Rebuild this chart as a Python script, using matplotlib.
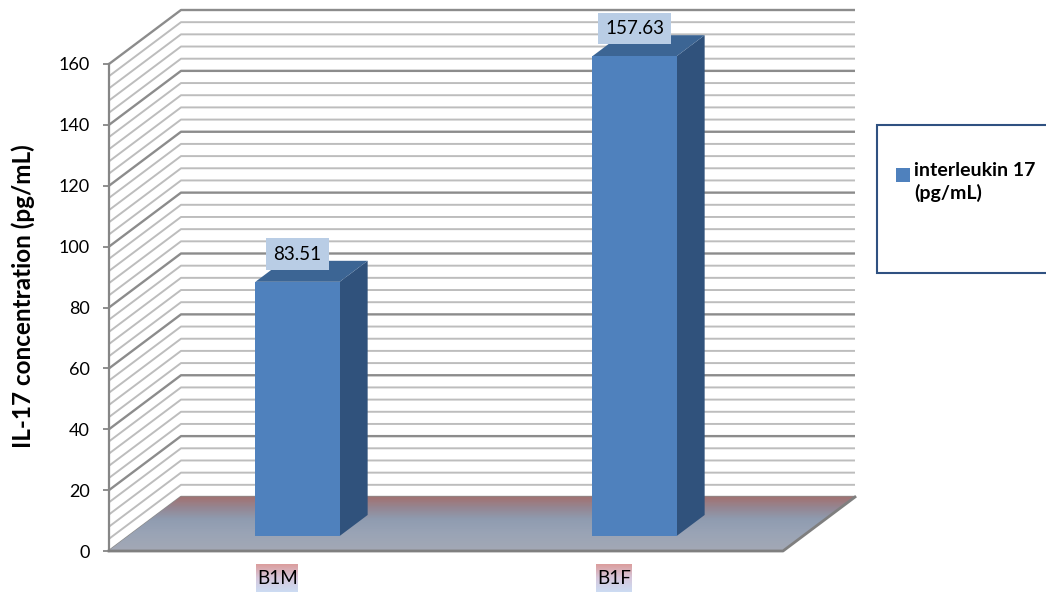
import numpy as np
import matplotlib
matplotlib.use("Agg")
import matplotlib.pyplot as plt
from matplotlib.patches import Polygon, Rectangle
from matplotlib.transforms import Affine2D

plt.rcParams['font.family'] = ['Lato', 'DejaVu Sans']

# data
categories = ["B1M", "B1F"]
values = [83.51, 157.63]
series_name = "interleukin 17\n(pg/mL)"
y_ticks = [0, 20, 40, 60, 80, 100, 120, 140, 160]

W, H = 1046, 594
fig = plt.figure(figsize=(W / 100, H / 100), dpi=100)
fig.patch.set_facecolor("white")

# front plane of the 3-D box, in pixels
x_front, x_right = 109, 783
y_zero, y_top = 551, 64
ax = fig.add_axes([x_front / W, (H - y_zero) / H,
                   (x_right - x_front) / W, (y_zero - y_top) / H])
ax.patch.set_visible(False)
n = len(categories)
ax.set_xlim(0, n)
ax.set_ylim(0, 160)

# depth offset of the back wall (pixels -> data units)
DX = 72 / (x_right - x_front) * n
DY = 54 / (y_zero - y_top) * 160


def proj(x, v, d):
    return x + d * DX, v + d * DY


# walls with gridlines
for v in np.arange(0, 161, 4):
    major = v % 20 == 0
    pts = np.array([proj(0, v, 0), proj(0, v, 1), proj(n, v, 1)])
    ax.plot(pts[:, 0], pts[:, 1], color="#8c8c8c" if major else "#bdbdbd",
            lw=1.7 if major else 1.4, clip_on=False, zorder=1,
            solid_capstyle="butt")

# floor slab, shaded from the viewer (t=0) to the back wall (t=1)
stop_t = [0.0, 0.35, 0.6, 0.8, 1.0]
stop_rgb = np.array([
    [0.64, 0.66, 0.71],
    [0.60, 0.64, 0.71],
    [0.56, 0.61, 0.69],
    [0.58, 0.53, 0.58],
    [0.63, 0.45, 0.45],
])
n_strips = 60
edges_t = np.linspace(0, 1, n_strips + 1)
for k in range(n_strips):
    ta, tb = edges_t[k], edges_t[k + 1]
    tm = 0.5 * (ta + tb)
    col = [np.interp(tm, stop_t, stop_rgb[:, j]) for j in range(3)]
    strip = [proj(0, 0, ta), proj(n, 0, ta), proj(n, 0, tb), proj(0, 0, tb)]
    ax.add_patch(Polygon(strip, closed=True, facecolor=col, edgecolor=col,
                         lw=0.6, zorder=2, clip_on=False))
edge = np.array([proj(0, 0, 0), proj(n, 0, 0), proj(n, 0, 1)])
ax.plot(edge[:, 0], edge[:, 1], color="#7f7f7f", lw=2.0, clip_on=False, zorder=3)

# bars
half_w = 0.125
d0, d1 = 0.278, 0.667
front_c, top_c, side_c = "#4f81bd", "#3c6594", "#30527c"
for i, (cat, val) in enumerate(zip(categories, values)):
    c = i + 0.5
    x0, x1 = c - half_w, c + half_w
    front = [proj(x0, 0, d0), proj(x1, 0, d0), proj(x1, val, d0), proj(x0, val, d0)]
    side = [proj(x1, 0, d0), proj(x1, 0, d1), proj(x1, val, d1), proj(x1, val, d0)]
    top = [proj(x0, val, d0), proj(x1, val, d0), proj(x1, val, d1), proj(x0, val, d1)]
    for poly, col in ((side, side_c), (top, top_c), (front, front_c)):
        ax.add_patch(Polygon(poly, closed=True, facecolor=col, edgecolor="none",
                             zorder=4, clip_on=False))
    lx, ly = proj(c, val, d0)
    ax.annotate(f"{val:.2f}", xy=(lx, ly), xytext=(0, 20), textcoords="offset points",
                ha="center", va="center", fontsize=13.5, color="black", zorder=6,
                bbox=dict(boxstyle="square,pad=0.38", facecolor="#b9cde5",
                          edgecolor="none"),
                annotation_clip=False)

# category labels with a small gradient backing
lab_grad = np.array([[0.86, 0.62, 0.62], [0.84, 0.78, 0.86], [0.80, 0.86, 0.95]])
tl = np.linspace(0, 1, 28)
lg = np.stack([np.interp(tl, [0, 0.5, 1], lab_grad[:, k]) for k in range(3)], axis=-1)
for i, cat in enumerate(categories):
    px, py = ax.transData.transform((i + 0.5, 0))
    bw = 36 if cat.endswith("F") else 42
    arr = np.repeat(lg[:, None, :], bw, axis=1)
    fig.figimage(arr, xo=int(px - bw / 2), yo=int(py - 41), origin="upper", zorder=-1)
    ax.text(i + 0.5, 0, cat, ha="center", va="center", fontsize=13.5,
            clip_on=False, zorder=6,
            transform=ax.transData + Affine2D().translate(0, -27))

# value axis
ax.set_xticks([])
for s in ("top", "right", "bottom"):
    ax.spines[s].set_visible(False)
ax.spines["left"].set_color("#868686")
ax.spines["left"].set_linewidth(1.6)
ax.set_yticks(y_ticks)
ax.tick_params(axis="y", direction="out", length=4, width=1.3, color="#868686",
               labelsize=13, pad=10)
fig.text(23 / W, 1 - 296 / H, "IL-17 concentration (pg/mL)", rotation=90,
         ha="center", va="center", fontsize=17.5, fontweight="bold")

# legend
fig.patches.append(Rectangle((877 / W, 1 - 273 / H), 200 / W, 148 / H,
                             transform=fig.transFigure, facecolor="white",
                             edgecolor="#2f5181", lw=1.5))
fig.patches.append(Rectangle((896 / W, 1 - 182 / H), 14 / W, 14 / H,
                             transform=fig.transFigure, facecolor=front_c,
                             edgecolor="none"))
fig.text(914 / W, 1 - 162 / H, series_name, ha="left", va="top",
         fontsize=14, fontweight="bold", linespacing=1.3)

fig.savefig("out.png", dpi=100)
